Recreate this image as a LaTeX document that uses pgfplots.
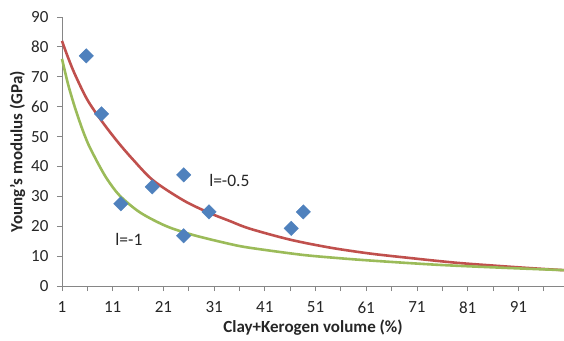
\documentclass[border=0pt]{standalone}
\usepackage{fontspec}
\setmainfont{Carlito}
\usepackage{pgfplots}
\pgfplotsset{compat=1.18}
\definecolor{xred}{HTML}{C0504D}
\definecolor{xgreen}{HTML}{9BBB59}
\definecolor{xblue}{HTML}{4F81BD}
\definecolor{axgray}{HTML}{868686}
\begin{document}
\begin{tikzpicture}
\begin{axis}[
  scale only axis,
  width=502pt, height=269pt,
  xmin=1, xmax=100, ymin=0, ymax=90,
  axis lines*=left,
  axis line style={axgray, line width=0.9pt},
  xtick={1,11,...,91},
  minor xtick={6,16,...,96},
  ytick={0,10,...,90},
  tick style={axgray, line width=0.9pt},
  major tick length=5pt, minor tick length=5pt,
  tick align=outside,
  /pgf/number format/assume math mode=true,
  tick label style={font=\fontsize{17}{20}\selectfont, text=black!85},
  xticklabel style={yshift=-7pt},
  yticklabel style={xshift=-5pt},
  xlabel={\textbf{Clay+Kerogen volume (\%)}},
  ylabel={\textbf{Young's modulus (GPa)}},
  label style={font=\fontsize{17}{20}\selectfont, text=black!85},
  xlabel style={at={(axis description cs:0.5,-0.1747)}, anchor=base},
  ylabel style={at={(axis description cs:-0.0787,0.5)}, anchor=base},
  clip=false,
]
\coordinate (O) at (rel axis cs:0,0);
\addplot[xred, line width=2.6pt, smooth, tension=0.5] coordinates {
 (1,82) (2,77.3) (3.5,71) (6,62.3) (9,54.8) (12,48.2) (15,42.3) (19,35.3) (25,28.6) (30,24.5) (34,21.8) (38,19.2) (46,15.5) (54,12.8) (62,10.8) (70,9.3) (75,8.4) (80,7.6) (88,6.6) (95,5.8) (100,5.3)
};
\addplot[xgreen, line width=2.6pt, smooth, tension=0.5] coordinates {
 (1,76) (2.2,67.5) (3.5,60) (5,52.5) (6.2,47.4) (7.5,43) (8.5,39.8) (10,35.5) (12.4,30.2) (16.4,24.6) (21.6,20) (27,17) (34,14.1) (38,12.8) (48,10.5) (55,9.4) (62,8.5) (75,7.1) (88,6.1) (100,5.3)
};
\addplot[only marks, mark=square*, mark size=5.1pt, mark options={rotate=45, fill=xblue, draw=xblue}] coordinates {
 (5.8,77) (8.8,57.6) (12.6,27.5) (18.8,33.2) (25,37.2) (25,16.8) (30,24.8) (46.2,19.3) (48.6,24.8)
};
\node[anchor=west, font=\fontsize{17.5}{20}\selectfont, text=black!85, inner sep=0pt] at (axis cs:30,35.3) {l=-0.5};
\node[anchor=west, font=\fontsize{17.5}{20}\selectfont, text=black!85, inner sep=0pt] at (axis cs:11.5,15.7) {l=-1};
\end{axis}
\pgfresetboundingbox
\path (O) ++(-62pt,-54pt) rectangle ++(564pt,340pt);
\end{tikzpicture}
\end{document}
